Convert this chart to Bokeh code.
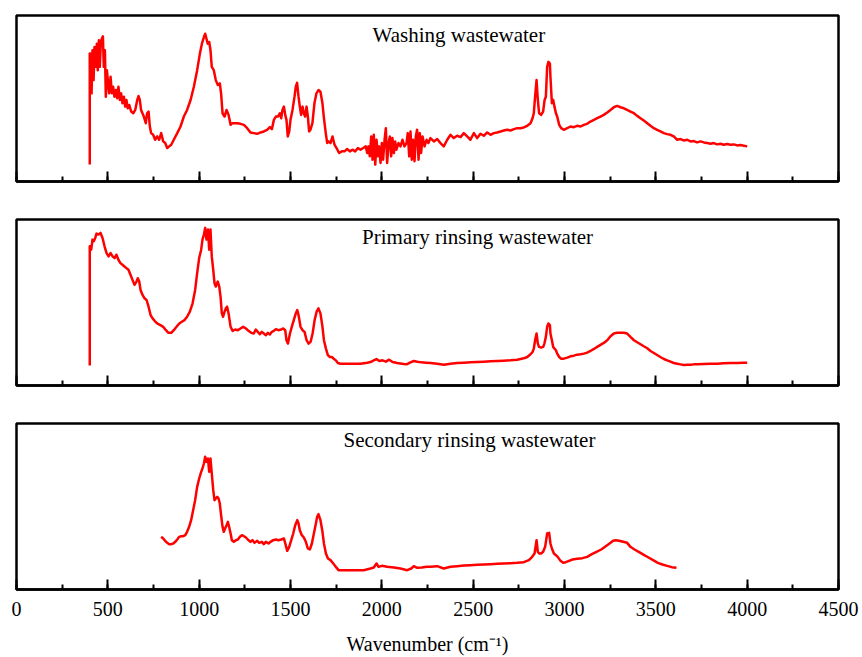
from bokeh.plotting import figure
from bokeh.layouts import column
from bokeh.models import Range1d, SingleIntervalTicker, Label, CustomLabelingPolicy
from bokeh.embed import file_html
from bokeh.resources import INLINE

FONT = "Liberation Serif"

# (wavenumber cm^-1, absorbance in arbitrary units)
washing = [
    (401, 51), (401, 386), (405, 386), (411, 266), (416, 396), (422, 306), (427, 406), (434, 346), (440, 416), (445, 336),
    (451, 426), (456, 346), (462, 421), (467, 431), (473, 438), (478, 346), (484, 396), (489, 256), (495, 336), (500, 306),
    (507, 266), (515, 316), (522, 266), (529, 286), (536, 256), (544, 276), (551, 251), (558, 286), (566, 246), (573, 266),
    (580, 236), (588, 256), (595, 226), (602, 246), (609, 221), (617, 231), (628, 211), (639, 206), (650, 216), (661, 246),
    (668, 258), (675, 246), (682, 216), (697, 196), (708, 176), (715, 206), (723, 211), (730, 166), (737, 146), (748, 141),
    (759, 126), (770, 136), (781, 126), (792, 146), (803, 121), (814, 116), (825, 101), (836, 106), (847, 111), (861, 126),
    (880, 146), (898, 166), (916, 196), (934, 216), (953, 246), (971, 286), (989, 336), (1004, 386), (1015, 416), (1026, 436),
    (1033, 446), (1040, 431), (1047, 416), (1055, 421), (1062, 396), (1069, 346), (1080, 336), (1091, 306), (1102, 291), (1113, 296),
    (1120, 266), (1128, 206), (1139, 196), (1150, 216), (1161, 201), (1172, 171), (1182, 176), (1193, 176), (1208, 176), (1226, 174),
    (1245, 171), (1263, 161), (1281, 148), (1299, 146), (1318, 144), (1336, 148), (1354, 151), (1372, 156), (1387, 164), (1398, 158),
    (1409, 186), (1420, 196), (1431, 196), (1442, 206), (1449, 191), (1456, 216), (1464, 226), (1471, 201), (1478, 186), (1485, 136),
    (1493, 151), (1500, 186), (1511, 216), (1522, 256), (1529, 286), (1536, 298), (1544, 256), (1551, 226), (1558, 201), (1566, 226),
    (1573, 206), (1580, 196), (1588, 226), (1595, 196), (1602, 151), (1609, 156), (1620, 176), (1631, 236), (1642, 266), (1653, 276),
    (1664, 271), (1675, 236), (1682, 196), (1693, 146), (1701, 116), (1708, 121), (1719, 116), (1730, 136), (1741, 111), (1752, 101),
    (1766, 86), (1781, 91), (1796, 91), (1810, 98), (1825, 91), (1839, 96), (1854, 91), (1869, 101), (1883, 96), (1898, 101),
    (1912, 106), (1920, 86), (1927, 106), (1934, 76), (1942, 136), (1949, 66), (1956, 141), (1964, 51), (1971, 126), (1978, 76),
    (1985, 106), (1993, 56), (2000, 116), (2007, 66), (2015, 126), (2022, 161), (2029, 56), (2037, 116), (2044, 136), (2051, 76),
    (2058, 131), (2066, 86), (2073, 121), (2080, 96), (2091, 116), (2102, 106), (2113, 126), (2124, 106), (2135, 116), (2142, 146),
    (2150, 76), (2157, 151), (2164, 66), (2171, 126), (2179, 61), (2186, 136), (2193, 156), (2201, 66), (2208, 146), (2215, 86),
    (2223, 136), (2234, 106), (2245, 126), (2255, 116), (2266, 131), (2285, 121), (2303, 128), (2321, 116), (2339, 106), (2358, 126),
    (2376, 141), (2394, 131), (2412, 138), (2431, 134), (2449, 146), (2467, 136), (2485, 126), (2504, 146), (2522, 131), (2540, 144),
    (2558, 138), (2577, 148), (2595, 141), (2613, 146), (2631, 148), (2650, 151), (2668, 154), (2686, 156), (2704, 154), (2723, 158),
    (2741, 161), (2759, 161), (2777, 163), (2796, 168), (2814, 176), (2825, 191), (2832, 206), (2839, 256), (2847, 306), (2854, 246),
    (2861, 206), (2872, 201), (2883, 211), (2891, 246), (2898, 256), (2905, 346), (2912, 361), (2920, 356), (2923, 316), (2931, 236),
    (2938, 246), (2945, 226), (2953, 206), (2960, 196), (2971, 171), (2982, 161), (2996, 156), (3015, 161), (3033, 166), (3051, 164),
    (3069, 168), (3088, 166), (3106, 171), (3124, 174), (3142, 181), (3161, 186), (3179, 191), (3197, 196), (3215, 201), (3234, 208),
    (3252, 216), (3270, 224), (3288, 228), (3307, 224), (3325, 221), (3343, 216), (3361, 211), (3380, 206), (3398, 198), (3416, 191),
    (3434, 184), (3453, 176), (3471, 168), (3489, 161), (3507, 156), (3525, 151), (3544, 146), (3562, 143), (3580, 141), (3598, 136),
    (3617, 126), (3635, 128), (3653, 124), (3672, 126), (3690, 121), (3708, 122), (3726, 118), (3745, 121), (3763, 118), (3781, 116),
    (3799, 114), (3817, 116), (3836, 112), (3854, 114), (3872, 111), (3890, 113), (3909, 111), (3927, 112), (3945, 109), (3963, 110),
    (3982, 108), (4000, 106),
]

primary = [
    (401, 60), (401, 415), (409, 405), (416, 435), (423, 430), (431, 440), (438, 453), (449, 450), (460, 455), (471, 440),
    (482, 415), (493, 395), (504, 385), (515, 395), (526, 385), (537, 380), (547, 390), (558, 375), (569, 365), (580, 360),
    (591, 355), (602, 350), (613, 345), (624, 330), (635, 315), (646, 300), (657, 310), (664, 320), (672, 310), (679, 285),
    (690, 270), (701, 260), (712, 255), (723, 235), (734, 210), (745, 200), (756, 193), (770, 185), (788, 180), (803, 175),
    (818, 165), (832, 157), (847, 157), (861, 165), (876, 175), (891, 185), (905, 190), (920, 195), (934, 205), (949, 220),
    (964, 245), (978, 285), (989, 335), (1000, 380), (1011, 405), (1018, 435), (1026, 450), (1033, 470), (1040, 435), (1048, 465),
    (1055, 405), (1062, 465), (1069, 385), (1077, 345), (1084, 305), (1091, 295), (1102, 310), (1110, 295), (1117, 265), (1124, 215),
    (1131, 205), (1139, 220), (1146, 230), (1153, 235), (1161, 215), (1172, 175), (1183, 163), (1197, 167), (1212, 165), (1226, 170),
    (1241, 175), (1256, 170), (1270, 163), (1285, 157), (1299, 155), (1310, 167), (1321, 160), (1332, 153), (1343, 160), (1354, 155),
    (1365, 150), (1376, 157), (1387, 152), (1398, 160), (1409, 163), (1420, 168), (1434, 165), (1449, 167), (1460, 170), (1471, 165),
    (1478, 135), (1486, 125), (1497, 155), (1507, 175), (1518, 195), (1529, 215), (1537, 225), (1544, 210), (1555, 175), (1566, 165),
    (1577, 160), (1588, 135), (1599, 125), (1610, 130), (1621, 155), (1632, 195), (1643, 220), (1653, 230), (1664, 215), (1675, 175),
    (1683, 135), (1694, 110), (1705, 90), (1716, 85), (1726, 85), (1737, 80), (1748, 75), (1759, 67), (1774, 65), (1810, 65),
    (1847, 65), (1883, 65), (1920, 68), (1938, 70), (1956, 75), (1971, 79), (1986, 73), (2004, 75), (2022, 71), (2040, 77),
    (2059, 70), (2084, 67), (2110, 65), (2135, 63), (2157, 69), (2175, 73), (2194, 71), (2216, 69), (2241, 68), (2267, 67),
    (2303, 65), (2339, 62), (2376, 65), (2412, 67), (2449, 68), (2485, 69), (2522, 70), (2558, 71), (2595, 72), (2631, 73),
    (2668, 74), (2704, 75), (2741, 77), (2777, 81), (2796, 85), (2814, 93), (2825, 100), (2832, 110), (2839, 135), (2847, 155),
    (2854, 125), (2861, 115), (2872, 113), (2883, 115), (2890, 125), (2898, 145), (2905, 175), (2912, 185), (2920, 180), (2923, 155),
    (2931, 135), (2938, 115), (2945, 110), (2953, 105), (2960, 95), (2971, 85), (2982, 80), (2996, 80), (3015, 83), (3033, 87),
    (3051, 89), (3069, 92), (3088, 93), (3106, 95), (3124, 98), (3142, 103), (3161, 109), (3179, 115), (3197, 121), (3215, 127),
    (3234, 135), (3252, 147), (3270, 155), (3288, 157), (3307, 157), (3325, 157), (3343, 155), (3361, 145), (3380, 135), (3398, 129),
    (3416, 123), (3434, 117), (3453, 111), (3471, 103), (3489, 97), (3507, 91), (3525, 85), (3544, 79), (3562, 75), (3580, 71),
    (3598, 67), (3617, 65), (3635, 63), (3653, 61), (3672, 62), (3690, 62), (3708, 63), (3726, 63), (3763, 64), (3799, 65),
    (3836, 65), (3872, 66), (3909, 67), (3945, 67), (3982, 68), (4000, 68),
]

secondary = [
    (792, 158), (803, 153), (814, 146), (825, 140), (836, 136), (847, 136), (858, 138), (869, 143), (880, 150), (891, 158),
    (902, 160), (913, 160), (924, 163), (934, 173), (945, 188), (956, 208), (967, 238), (978, 268), (989, 308), (1000, 333),
    (1011, 353), (1018, 363), (1026, 378), (1033, 398), (1040, 383), (1048, 393), (1055, 353), (1062, 393), (1069, 348), (1077, 298),
    (1084, 268), (1091, 273), (1099, 278), (1106, 273), (1113, 258), (1120, 223), (1128, 188), (1135, 173), (1142, 183), (1150, 193),
    (1157, 203), (1164, 188), (1172, 168), (1179, 148), (1190, 143), (1201, 148), (1212, 150), (1223, 158), (1234, 163), (1245, 160),
    (1256, 156), (1266, 150), (1281, 143), (1292, 148), (1303, 140), (1318, 146), (1328, 140), (1343, 143), (1354, 136), (1365, 143),
    (1380, 138), (1391, 143), (1405, 148), (1420, 150), (1434, 148), (1449, 150), (1464, 153), (1474, 133), (1482, 116), (1493, 128),
    (1504, 148), (1515, 168), (1526, 193), (1537, 208), (1544, 198), (1551, 178), (1562, 163), (1573, 156), (1584, 143), (1595, 123),
    (1606, 120), (1617, 138), (1628, 168), (1639, 198), (1646, 218), (1653, 226), (1664, 208), (1675, 173), (1683, 138), (1694, 108),
    (1705, 93), (1719, 88), (1734, 78), (1748, 68), (1763, 58), (1792, 58), (1847, 58), (1901, 58), (1938, 63), (1956, 66),
    (1971, 78), (1982, 68), (2000, 71), (2029, 68), (2066, 66), (2102, 63), (2139, 58), (2161, 63), (2175, 70), (2194, 65),
    (2219, 66), (2245, 68), (2267, 68), (2303, 70), (2339, 63), (2376, 68), (2412, 70), (2449, 72), (2485, 73), (2522, 74),
    (2558, 75), (2595, 76), (2631, 77), (2668, 78), (2704, 79), (2741, 80), (2777, 82), (2805, 88), (2823, 98), (2836, 108),
    (2847, 148), (2854, 113), (2861, 108), (2872, 108), (2883, 113), (2894, 128), (2905, 168), (2916, 170), (2923, 138), (2931, 123),
    (2942, 108), (2953, 103), (2963, 98), (2978, 86), (2993, 80), (3007, 82), (3025, 86), (3044, 90), (3069, 92), (3098, 94),
    (3124, 98), (3150, 106), (3175, 113), (3201, 120), (3226, 130), (3252, 140), (3266, 146), (3281, 148), (3299, 146), (3321, 143),
    (3343, 140), (3361, 128), (3383, 120), (3409, 112), (3434, 104), (3460, 96), (3485, 88), (3511, 80), (3536, 75), (3562, 71),
    (3587, 67), (3613, 65),
]

panel_titles = ["Washing wastewater", "Primary rinsing wastewater", "Secondary rinsing wastewater"]
title_x = [1949, 1892, 1790]
y_tops = [501, 495, 498]
x_ticks_interval = 500
x_limits = (0, 4500)


def make_panel(data, ytop, title, tx, toff, bottom, btop, bbottom):
    p = figure(frame_width=822, frame_height=166, output_backend="svg", toolbar_location=None,
               x_range=Range1d(*x_limits), y_range=Range1d(0, ytop), y_axis_location=None,
               min_border_left=16, min_border_right=22, min_border_top=btop, min_border_bottom=bbottom)
    xs = [d[0] for d in data]
    ys = [d[1] for d in data]
    p.line(xs, ys, line_color="#ff0000", line_width=2.5, line_join="round")
    p.grid.visible = False
    p.outline_line_color = "black"
    p.outline_line_width = 2.5
    p.outline_line_alpha = 1.0
    ax = p.xaxis[0]
    ax.ticker = SingleIntervalTicker(interval=x_ticks_interval, num_minor_ticks=2)
    ax.axis_line_color = "black"
    ax.axis_line_width = 2.5
    ax.major_tick_in = 10
    ax.major_tick_out = 0
    ax.minor_tick_in = 5
    ax.minor_tick_out = 0
    ax.major_tick_line_width = 2
    ax.minor_tick_line_width = 2
    ax.major_tick_line_color = "black"
    ax.minor_tick_line_color = "black"
    if bottom:
        ax.major_label_text_font = FONT
        ax.major_label_text_font_size = "20px"
        ax.major_label_text_color = "black"
        ax.major_label_standoff = 12
        ax.axis_label = "Wavenumber (cm\u207b\u00b9)"
        ax.axis_label_text_font = FONT
        ax.axis_label_text_font_size = "20px"
        ax.axis_label_text_font_style = "normal"
        ax.axis_label_text_color = "black"
        ax.axis_label_standoff = 14
    else:
        ax.major_label_text_font = FONT
        ax.major_label_text_font_size = "2px"
        ax.major_label_standoff = 0
        ax.major_label_policy = CustomLabelingPolicy(code="return []")
    p.add_layout(Label(x=tx, y=ytop, text=title, text_font=FONT, text_font_size="21px",
                       text_color="black", text_baseline="top", text_align="left", y_offset=toff))
    return p


p1 = make_panel(washing, y_tops[0], panel_titles[0], title_x[0], -7, False, 15, 19)
p2 = make_panel(primary, y_tops[1], panel_titles[1], title_x[1], -5, False, 19, 19)
p3 = make_panel(secondary, y_tops[2], panel_titles[2], title_x[2], -4, True, 19, 0)

layout = column(p1, p2, p3, spacing=0)
open("out.html", "w").write(file_html(layout, INLINE))
